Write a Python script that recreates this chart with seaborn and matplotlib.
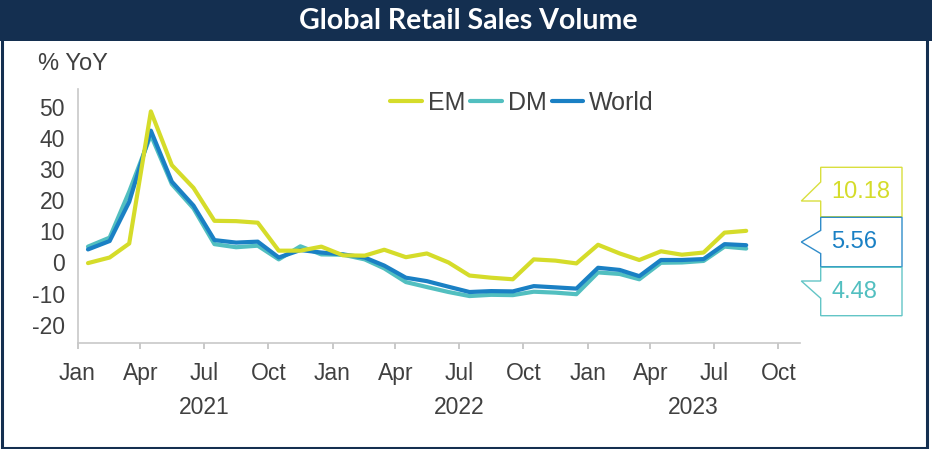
import pandas as pd
import matplotlib.pyplot as plt
import matplotlib.dates as mdates
import matplotlib.transforms as mtransforms
from matplotlib.patches import Rectangle, Polygon
import seaborn as sns

# Monthly series, Jan 2021 - Aug 2023 (% YoY)
months = pd.date_range('2021-01-01', periods=32, freq='MS') + pd.Timedelta(days=15)
em = [-0.2, 1.6, 6.1, 48.6, 31.3, 24.0, 13.4, 13.3, 12.8, 3.8, 3.8, 5.1, 2.3, 2.2, 4.1, 1.7,
      2.9, 0.0, -4.2, -4.9, -5.4, 1.0, 0.6, -0.3, 5.7, 2.9, 0.8, 3.6, 2.5, 3.2, 9.6, 10.18]
dm = [5.1, 8.0, 22.8, 41.0, 25.2, 17.4, 5.9, 4.9, 5.4, 1.0, 5.2, 2.6, 2.5, 1.0, -1.9, -6.3,
      -7.9, -9.5, -10.8, -10.4, -10.5, -9.4, -9.7, -10.2, -3.2, -3.7, -5.4, -0.1, 0.0, 0.5, 5.1, 4.48]
world = [4.2, 6.9, 19.5, 42.4, 26.0, 18.3, 7.2, 6.4, 6.7, 1.6, 4.0, 3.2, 2.6, 1.6, -1.0, -4.9,
         -6.0, -7.8, -9.5, -9.2, -9.3, -7.6, -8.0, -8.4, -1.7, -2.4, -4.4, 0.8, 0.8, 1.1, 5.9, 5.56]
series_names = ['EM', 'DM', 'World']
colors = {'EM': '#d5dc2a', 'DM': '#52bfc0', 'World': '#1a80c4'}
years = ['2021', '2022', '2023']
year_pos = pd.to_datetime(['2021-07-01', '2022-07-01', '2023-06-01'])

df = pd.DataFrame({'date': months, 'EM': em, 'DM': dm, 'World': world})
long = df.melt(id_vars='date', var_name='series', value_name='yoy')

sns.set_theme(style="white")
plt.rcParams['font.family'] = ['Liberation Sans', 'DejaVu Sans']
plt.rcParams['axes.unicode_minus'] = False
grey = '#404040'
navy = '#142f50'

W, H = 932, 449
fig = plt.figure(figsize=(W / 100, H / 100), dpi=100)
ax = fig.add_axes([77.5 / W, 1 - 342.7 / H, (800 - 77.5) / W, (342.7 - 89) / H])

# draw order: DM, World, EM on top
handles = {}
for name in ['DM', 'World', 'EM']:
    sns.lineplot(data=long[long['series'] == name], x='date', y='yoy', ax=ax,
                 color=colors[name], lw=3.0, label=name, legend=False)
    handles[name] = ax.lines[-1]

ax.set_xlim(pd.Timestamp('2021-01-01'), pd.Timestamp('2023-11-01'))
ax.set_ylim(-25.8, 55.8)
ax.set_yticks(range(-20, 51, 10))
ax.set_xlabel('')
ax.set_ylabel('')

ax.xaxis.set_major_locator(mdates.MonthLocator(bymonth=[1, 4, 7, 10]))
ax.xaxis.set_major_formatter(mdates.DateFormatter('%b'))
ax.xaxis.set_minor_locator(mdates.MonthLocator(bymonth=[1]))
ax.tick_params(axis='x', which='major', direction='out', length=4, width=1.2,
               color='#c0c0c0', labelsize=16.5, labelcolor=grey, pad=10, bottom=True)
ax.tick_params(axis='x', which='minor', direction='out', length=8.5, width=1.2,
               color='#c0c0c0', bottom=True)
ax.tick_params(axis='y', length=0, labelsize=16.5, labelcolor=grey, pad=9)

for side in ['top', 'right']:
    ax.spines[side].set_visible(False)
for side in ['left', 'bottom']:
    ax.spines[side].set_color('#c8c8c8')
    ax.spines[side].set_linewidth(1.2)

# year labels under the month labels
trans = mtransforms.blended_transform_factory(ax.transData, fig.transFigure)
for yr, pos in zip(years, year_pos):
    ax.text(pos, 1 - 407 / H, yr, transform=trans, ha='center', va='center',
            fontsize=16.5, color=grey)

ax.legend([handles[n] for n in series_names], series_names, loc='center',
          bbox_to_anchor=(522 / W, 1 - 103 / H), bbox_transform=fig.transFigure,
          ncol=3, frameon=False, fontsize=18, handlelength=1.25, handletextpad=0.25,
          columnspacing=0.2, labelcolor=grey)

fig.text(38 / W, 1 - 64 / H, '% YoY', ha='left', va='center', fontsize=17, color=grey)

# title bar and frame
fig.patches.append(Rectangle((0, 1 - 41 / H), 1, 41 / H, transform=fig.transFigure,
                             facecolor=navy, edgecolor='none', zorder=0))
fig.patches.append(Rectangle((1.5 / W, 1.5 / H), 925.5 / W, 445 / H, transform=fig.transFigure,
                             facecolor='none', edgecolor=navy, lw=2.2, zorder=5))
fig.text(468 / W, 1 - 21 / H, 'Global Retail Sales Volume', ha='center', va='center',
         fontsize=20.5, fontweight='bold', color='white', family=['Lato', 'DejaVu Sans'])

# value callouts for the latest readings
last_vals = {'EM': em[-1], 'World': world[-1], 'DM': dm[-1]}
boxes = {'EM': (167.3, 216.7), 'World': (217.3, 266.7), 'DM': (267.3, 315.7)}
x0, x1, tip = 820.7, 902.0, 801.3

def fpt(x, y):
    return (x / W, 1 - y / H)

for name, (top, bot) in boxes.items():
    if name == 'EM':
        ptr = [(x0, bot - 15.7), (tip, bot - 15.7), (x0, top + 14.7)]
    elif name == 'World':
        mid = (top + bot) / 2
        ptr = [(x0, mid + 11.6), (tip, mid), (x0, mid - 11.6)]
    else:
        ptr = [(x0, top + 31), (tip, top + 13.7), (x0, top + 13.7)]
    pts = [(x0, top), (x1, top), (x1, bot), (x0, bot)] + ptr
    fig.patches.append(Polygon([fpt(*p) for p in pts], closed=True, transform=fig.transFigure,
                               facecolor='white', edgecolor=colors[name], lw=1.0, alpha=0.9))
    fig.text(831.5 / W, 1 - ((top + bot) / 2 + 0.5) / H, f'{last_vals[name]:.2f}',
             ha='left', va='center', fontsize=17, color=colors[name])

fig.savefig('out.png', dpi=100)
